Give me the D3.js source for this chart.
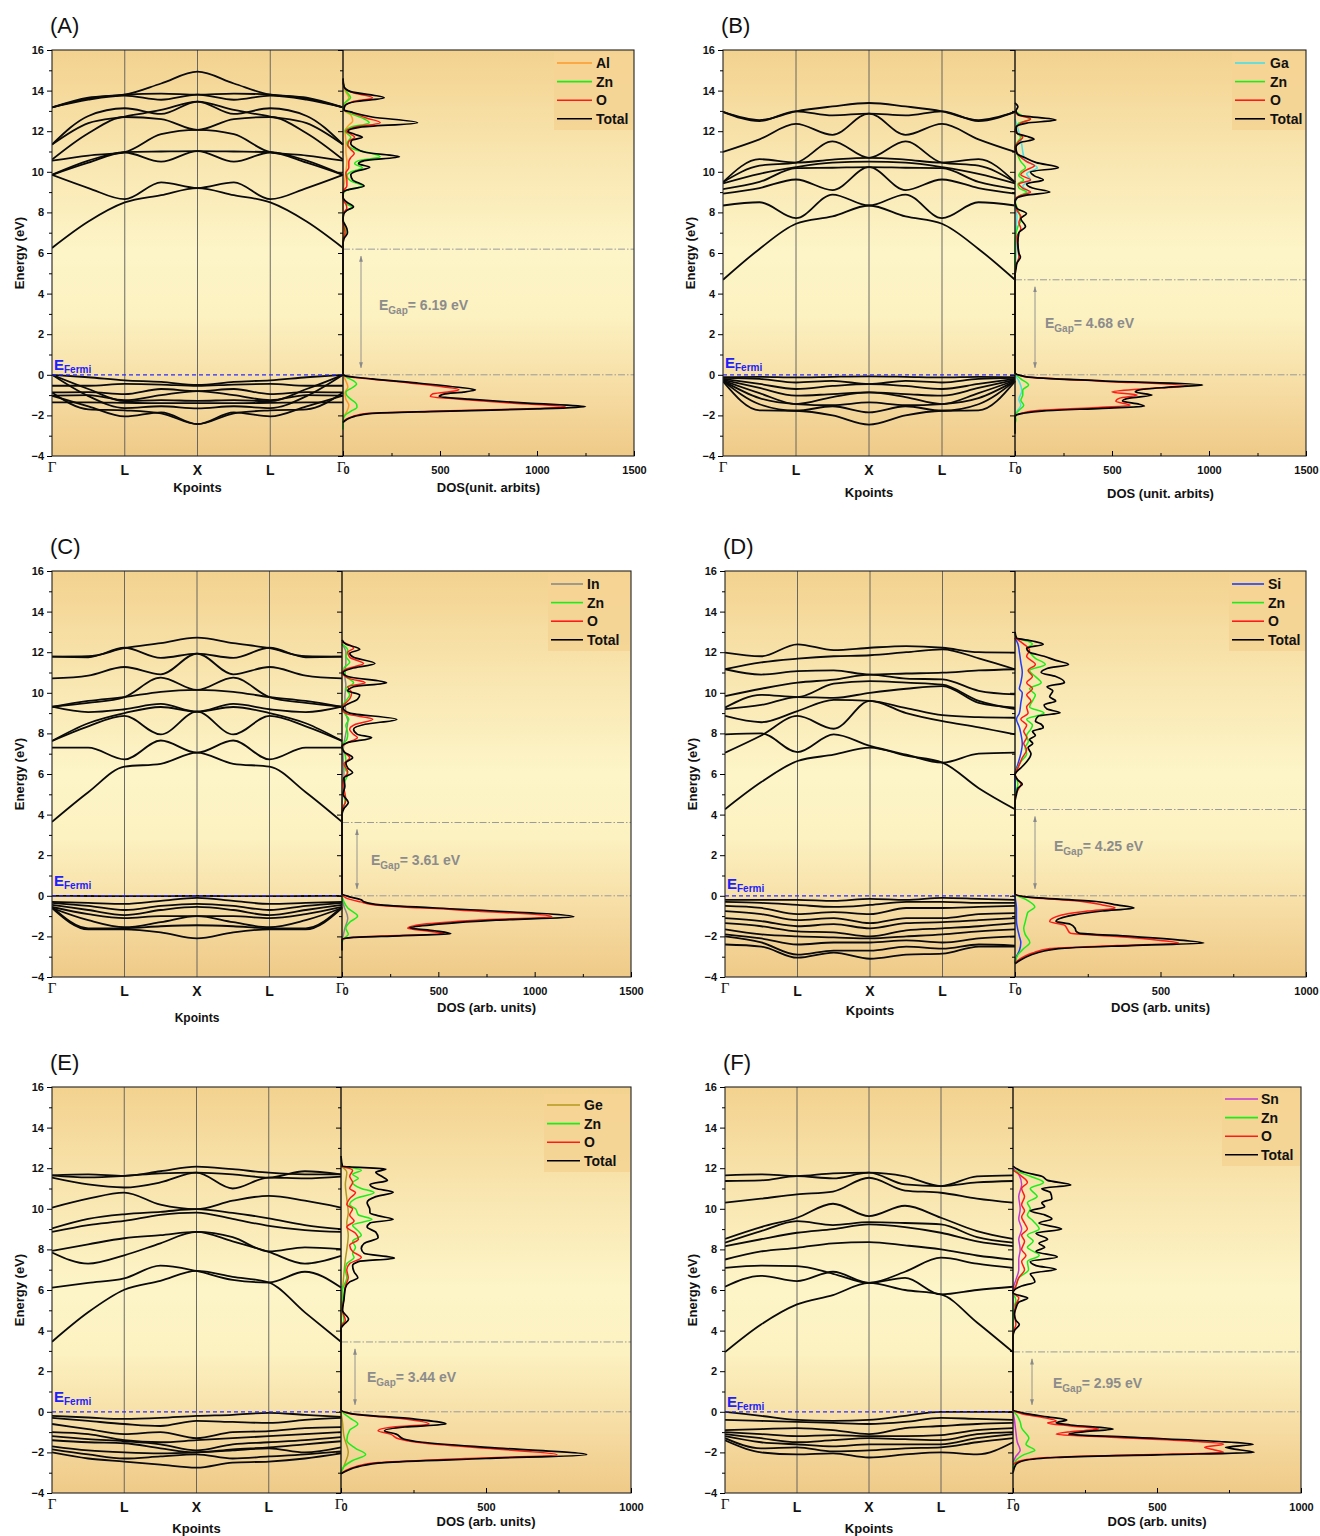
<!DOCTYPE html>
<html><head><meta charset="utf-8">
<script src="https://cdn.jsdelivr.net/npm/d3@7"></script>
<style>body{margin:0;background:#fff}svg{display:block}</style>
</head><body>
<svg id="c" width="1320" height="1536"></svg>
<script>
// ---------------- DATA ----------------
const panelLetters = ["A","B","C","D","E","F"];
const kLabels = ["\u0393","L","X","L","\u0393"];
const kPoints = [0,0.5,1,1.5,2,2.5,3,3.5,4];
const energyMajorTicks = [-4,-2,0,2,4,6,8,10,12,14,16];
const energyMinorTicks = [-3,-1,1,3,5,7,9,11,13,15];
const dopants = ["Al","Ga","In","Si","Ge","Sn"];
const dopantColors = ["#ff9a2e","#48e0e8","#8a8a8a","#1f3cff","#b39a1e","#c23ad6"];
const gapValues = [6.19, 4.68, 3.61, 4.25, 3.44, 2.95];
const dosMax = [1500,1500,1500,1000,1000,1000];
const dosTickValues = [[0,500,1000,1500],[0,500,1000,1500],[0,500,1000,1500],[0,500,1000],[0,500,1000],[0,500,1000]];
const dosTitles = ["DOS(unit. arbits)","DOS (unit. arbits)","DOS (arb. units)","DOS (arb. units)","DOS (arb. units)","DOS (arb. units)"];

// band energies (eV) at kPoints: Γ, ½, L, ½, X, ½, L, ½, Γ
const bandsA = [
 [6.25,7.55,8.49,8.85,9.2,8.85,8.49,7.55,6.25],
 [9.85,9.2,8.65,9.48,9.2,9.48,8.65,9.2,9.85],
 [9.85,10.45,10.95,10.5,11.02,10.5,10.95,10.45,9.85],
 [9.85,10.55,10.97,11.0,11.02,11.0,10.97,10.55,9.85],
 [10.55,10.8,10.97,11.85,12.07,11.85,10.97,10.8,10.55],
 [10.6,11.9,12.7,12.6,12.07,12.6,12.7,11.9,10.6],
 [11.34,12.4,12.72,13.05,13.46,13.05,12.72,12.4,11.34],
 [11.34,12.75,13.13,12.85,13.46,12.85,13.13,12.75,11.34],
 [13.17,13.55,13.75,13.55,13.8,13.55,13.75,13.55,13.17],
 [13.17,13.6,13.8,13.85,13.8,13.85,13.8,13.6,13.17],
 [13.17,13.65,13.8,14.35,14.93,14.35,13.8,13.65,13.17],
 [0,-0.12,-0.27,-0.35,-0.5,-0.35,-0.27,-0.12,0],
 [-0.54,-0.54,-0.45,-0.48,-0.55,-0.48,-0.45,-0.54,-0.54],
 [-0.87,-0.85,-0.95,-0.7,-0.8,-0.7,-0.95,-0.85,-0.87],
 [-1.03,-1.0,-1.25,-1.0,-0.8,-1.0,-1.25,-1.0,-1.03],
 [-1.36,-1.36,-1.38,-1.4,-1.4,-1.4,-1.38,-1.36,-1.36],
 [0,-0.7,-1.3,-1.25,-1.28,-1.25,-1.3,-0.7,0],
 [0,-1.05,-1.64,-1.55,-1.65,-1.55,-1.64,-1.05,0],
 [-0.87,-1.7,-1.75,-1.9,-2.43,-1.9,-1.75,-1.7,-0.87],
 [-1.03,-1.55,-2.05,-1.85,-2.43,-1.85,-2.05,-1.55,-1.03]
];
const bandsB = [
 [4.68,6.2,7.44,7.8,8.34,7.8,7.44,6.2,4.68],
 [8.34,8.5,7.72,8.88,8.34,8.88,7.72,8.5,8.34],
 [8.92,9.2,9.62,9.1,10.23,9.1,9.62,9.2,8.92],
 [9.15,9.5,10.18,10.2,10.23,10.2,10.18,9.5,9.15],
 [9.43,9.9,10.23,10.45,10.5,10.45,10.23,9.9,9.43],
 [9.49,10.3,10.45,11.5,10.69,11.5,10.45,10.3,9.49],
 [9.49,10.62,10.45,10.6,10.69,10.6,10.45,10.62,9.49],
 [10.98,11.6,12.36,11.82,12.87,11.82,12.36,11.6,10.98],
 [12.95,12.5,12.98,12.78,12.87,12.78,12.98,12.5,12.95],
 [12.95,12.55,12.98,13.22,13.39,13.22,12.98,12.55,12.95],
 [-0.12,-0.1,-0.13,-0.1,-0.08,-0.1,-0.13,-0.1,-0.12],
 [-0.15,-0.2,-0.38,-0.3,-0.46,-0.3,-0.38,-0.2,-0.15],
 [-0.2,-0.45,-0.7,-0.55,-0.46,-0.55,-0.7,-0.45,-0.2],
 [-0.25,-0.65,-1.03,-0.95,-0.87,-0.95,-1.03,-0.65,-0.25],
 [-0.28,-0.9,-1.44,-1.1,-0.87,-1.1,-1.44,-0.9,-0.28],
 [-0.3,-1.15,-1.44,-1.5,-1.36,-1.5,-1.44,-1.15,-0.3],
 [-0.3,-1.45,-1.77,-1.55,-1.85,-1.55,-1.77,-1.45,-0.3],
 [-0.32,-1.75,-1.77,-2.0,-2.45,-2.0,-1.77,-1.75,-0.32]
];
const bandsC = [
 [3.64,5.1,6.36,6.5,7.05,6.5,6.36,5.1,3.64],
 [7.3,7.3,6.72,7.65,7.05,7.65,6.72,7.3,7.3],
 [7.63,8.35,8.86,7.95,9.07,7.95,8.86,8.35,7.63],
 [7.63,8.5,9.0,9.3,9.07,9.3,9.0,8.5,7.63],
 [9.32,9.05,9.19,9.45,9.07,9.45,9.19,9.05,9.32],
 [9.32,9.5,9.79,10.75,10.14,10.75,9.79,9.5,9.32],
 [9.3,9.6,9.79,10.05,10.14,10.05,9.79,9.6,9.3],
 [10.71,10.85,11.27,10.91,11.93,10.91,11.27,10.85,10.71],
 [11.78,11.75,12.22,11.72,11.93,11.72,12.22,11.75,11.78],
 [11.78,11.8,12.2,12.45,12.72,12.45,12.2,11.8,11.78],
 [0,-0.01,-0.02,-0.02,0,-0.02,-0.02,-0.01,0],
 [-0.3,-0.35,-0.4,-0.25,-0.1,-0.25,-0.4,-0.35,-0.3],
 [-0.35,-0.5,-0.7,-0.5,-0.4,-0.5,-0.7,-0.5,-0.35],
 [-0.45,-0.7,-0.95,-0.7,-0.55,-0.7,-0.95,-0.7,-0.45],
 [-0.55,-0.9,-1.1,-1.0,-1.0,-1.0,-1.1,-0.9,-0.55],
 [-0.6,-1.2,-1.55,-1.3,-1.0,-1.3,-1.55,-1.2,-0.6],
 [-0.55,-1.6,-1.6,-1.5,-1.45,-1.5,-1.6,-1.6,-0.55],
 [-0.6,-1.65,-1.65,-1.8,-2.1,-1.8,-1.65,-1.65,-0.6]
];
const bandsD = [
 [4.26,5.6,6.64,6.95,7.3,6.9,6.56,5.3,4.26],
 [7.05,7.9,8.86,8.23,9.6,9.0,8.6,8.3,7.95],
 [7.95,8.0,7.08,7.95,7.38,6.95,6.56,7.0,7.05],
 [8.86,8.55,9.1,9.65,9.6,9.25,8.9,8.8,8.77],
 [9.2,9.4,9.79,9.75,10.0,10.2,10.33,9.5,9.27],
 [9.27,9.9,9.79,10.45,10.58,10.5,10.4,9.6,9.2],
 [9.84,10.2,10.5,10.65,10.9,10.7,10.66,10.1,9.92],
 [11.16,10.9,11.07,11.1,10.9,10.95,10.99,11.1,11.16],
 [11.16,11.5,11.68,11.8,11.85,12.0,12.14,11.7,11.16],
 [11.98,11.8,12.39,12.1,12.22,12.3,12.22,12.0,11.98],
 [-0.2,-0.2,-0.2,-0.25,-0.15,-0.2,-0.1,-0.15,-0.2],
 [-0.3,-0.35,-0.45,-0.55,-0.45,-0.3,-0.3,-0.35,-0.35],
 [-0.5,-0.6,-0.9,-0.8,-0.9,-0.6,-0.6,-0.55,-0.5],
 [-0.75,-0.9,-1.2,-1.1,-1.35,-1.1,-1.1,-0.9,-0.85],
 [-1.1,-1.25,-1.5,-1.4,-1.6,-1.35,-1.3,-1.2,-1.1],
 [-1.35,-1.5,-1.75,-1.8,-2.0,-1.7,-1.6,-1.5,-1.35],
 [-1.65,-1.9,-2.0,-2.05,-2.1,-2.0,-1.9,-1.75,-1.65],
 [-1.9,-2.1,-2.4,-2.3,-2.3,-2.2,-2.3,-2.1,-2.0],
 [-2.0,-2.3,-2.9,-2.7,-2.7,-2.5,-2.6,-2.4,-2.45],
 [-2.4,-2.5,-3.05,-2.8,-3.1,-2.9,-2.85,-2.5,-2.5]
];
const bandsE = [
 [3.45,4.9,6.01,6.45,6.94,6.65,6.37,4.9,3.45],
 [6.12,6.35,6.57,7.2,6.94,6.5,6.37,6.9,6.12],
 [7.85,7.3,7.71,8.3,8.86,8.4,7.88,7.3,7.68],
 [7.93,8.25,8.55,8.7,8.86,8.6,7.9,8.1,8.01],
 [8.86,9.2,9.4,9.7,9.81,9.5,9.16,8.95,8.86],
 [9.03,9.5,9.73,9.85,9.98,9.8,9.53,9.2,9.0],
 [10.06,10.5,10.8,10.2,9.98,10.4,10.64,10.4,10.06],
 [11.54,11.2,11.05,11.3,11.78,11.0,11.54,11.5,11.59],
 [11.65,11.55,11.62,11.75,11.78,11.7,11.54,11.85,11.7],
 [11.65,11.7,11.62,11.85,12.08,11.95,11.78,11.7,11.7],
 [-0.2,-0.28,-0.35,-0.3,-0.2,-0.15,-0.05,-0.15,-0.25],
 [-0.3,-0.45,-0.6,-0.7,-0.45,-0.5,-0.55,-0.4,-0.3],
 [-0.6,-0.85,-1.1,-1.0,-1.3,-1.0,-0.95,-0.8,-0.75],
 [-1.0,-1.1,-1.4,-1.5,-1.4,-1.3,-1.2,-1.1,-1.0],
 [-1.2,-1.35,-1.45,-1.6,-1.9,-1.6,-1.5,-1.4,-1.25],
 [-1.4,-1.5,-1.55,-1.8,-2.0,-1.85,-1.75,-1.6,-1.45],
 [-1.7,-1.9,-2.0,-2.05,-2.0,-1.9,-1.8,-2.0,-1.75],
 [-1.85,-2.1,-2.3,-2.2,-2.1,-2.3,-2.2,-2.1,-1.95],
 [-2.0,-2.3,-2.45,-2.6,-2.75,-2.5,-2.45,-2.3,-2.05]
];
const bandsF = [
 [2.94,4.3,5.29,5.75,6.35,6.0,5.78,4.4,2.94],
 [6.16,6.7,6.44,6.9,6.35,6.6,5.78,6.0,6.16],
 [7.09,7.2,7.18,6.8,6.35,6.9,7.59,7.3,7.09],
 [7.5,7.9,8.08,8.3,8.36,8.2,8.0,7.7,7.5],
 [8.16,8.5,8.82,9.0,9.23,9.1,8.82,8.4,8.16],
 [8.33,8.9,9.39,9.2,9.34,9.3,9.23,8.6,8.33],
 [8.52,9.1,9.56,10.25,9.64,10.15,9.56,8.9,8.52],
 [10.3,10.5,10.71,10.85,11.53,10.9,10.79,10.5,10.3],
 [11.37,11.4,11.61,11.5,11.78,11.2,11.12,11.3,11.37],
 [11.65,11.7,11.61,11.75,11.78,11.6,11.12,11.6,11.65],
 [0,-0.2,-0.4,-0.45,-0.4,-0.2,0,0,0],
 [-0.4,-0.45,-0.5,-0.55,-0.6,-0.5,-0.3,-0.35,-0.4],
 [-0.9,-0.85,-0.8,-0.9,-1.1,-0.8,-0.7,-0.6,-0.55],
 [-1.0,-1.1,-1.2,-1.15,-1.2,-1.2,-1.15,-0.9,-0.8],
 [-1.1,-1.3,-1.5,-1.4,-1.3,-1.35,-1.4,-1.1,-1.0],
 [-1.2,-1.5,-1.6,-1.7,-1.6,-1.6,-1.6,-1.3,-1.1],
 [-1.3,-1.8,-1.75,-1.95,-1.9,-1.8,-1.75,-1.5,-1.3],
 [-1.4,-2.0,-2.1,-2.05,-2.25,-2.1,-2.0,-2.1,-1.5]
];

// DOS: [energy (eV), DOS value]
const dosA_Al = [[14.5,0],[14.0,10],[13.65,30],[13.3,5],[13.0,10],[12.8,40],[12.5,50],[12.3,30],[12.0,10],[11.5,15],[11.0,15],[10.5,20],[10.0,15],[9.5,8],[9.0,0],[0.05,0],[-0.3,15],[-0.6,25],[-0.9,10],[-1.2,15],[-1.5,30],[-1.8,20],[-2.1,0]];
const dosA_Zn = [[14.4,0],[14.0,15],[13.65,39],[13.4,10],[13.1,0],[12.9,30],[12.6,110],[12.42,135],[12.2,40],[12.0,10],[11.7,40],[11.4,20],[11.1,60],[10.9,150],[10.74,192],[10.55,80],[10.4,60],[10.2,100],[10.0,40],[9.8,20],[9.55,40],[9.3,100],[9.1,20],[8.9,0],[8.6,2],[8.4,20],[8.25,50],[8.1,20],[7.9,0],[7.6,2],[7.3,10],[7.0,15],[6.7,0],[0.05,0],[-0.1,15],[-0.3,55],[-0.45,70],[-0.65,45],[-0.85,15],[-1.0,18],[-1.2,40],[-1.45,70],[-1.6,72],[-1.8,40],[-2.0,10],[-2.3,0],[-2.7,0]];
const dosA_O = [[14.4,0],[14.1,10],[13.9,50],[13.65,152],[13.45,50],[13.25,8],[13.05,5],[12.9,50],[12.65,120],[12.42,192],[12.2,60],[12.0,15],[11.85,40],[11.7,60],[11.5,30],[11.3,25],[11.1,40],[10.9,58],[10.7,40],[10.5,30],[10.2,30],[9.95,15],[9.6,20],[9.3,20],[9.1,5],[8.9,0],[8.6,2],[8.4,15],[8.2,20],[8.0,5],[7.6,0],[7.3,5],[7.0,10],[6.6,0],[0.05,0],[-0.05,8],[-0.2,130],[-0.4,340],[-0.6,520],[-0.74,598],[-0.85,540],[-0.95,460],[-1.07,450],[-1.2,600],[-1.4,880],[-1.57,1147],[-1.68,920],[-1.8,450],[-1.9,130],[-2.05,50],[-2.2,15],[-2.35,0]];
const dosA_Total = [[14.6,0],[14.2,5],[13.95,40],[13.65,212],[13.45,60],[13.25,10],[13.05,5],[12.95,40],[12.7,150],[12.42,384],[12.2,90],[12.0,25],[11.85,60],[11.7,100],[11.55,45],[11.4,40],[11.2,60],[10.95,120],[10.74,291],[10.55,110],[10.4,80],[10.22,138],[10.0,60],[9.85,40],[9.6,50],[9.3,109],[9.1,20],[9.0,2],[8.75,0],[8.5,20],[8.28,54],[8.1,20],[7.9,3],[7.6,0],[7.4,10],[7.2,20],[6.98,23],[6.7,5],[6.4,0],[0.05,0],[-0.05,10],[-0.2,150],[-0.4,380],[-0.6,580],[-0.74,683],[-0.85,620],[-0.95,520],[-1.07,496],[-1.2,650],[-1.4,950],[-1.57,1250],[-1.68,1000],[-1.8,500],[-1.9,150],[-2.05,60],[-2.2,20],[-2.35,0]];

const dosB_Ga = [[12.6,0],[12.3,10],[11.6,30],[10.6,50],[10.2,115],[9.9,60],[9.6,80],[9.3,40],[9.0,70],[8.7,10],[8.4,0],[7.8,10],[7.0,5],[6.0,5],[5.0,0],[0.05,0],[-0.3,20],[-0.8,35],[-1.2,20],[-1.5,30],[-1.8,10],[-2.0,0]];
const dosB_Zn = [[13.0,0],[12.8,30],[12.6,80],[12.4,20],[12.0,0],[11.7,30],[11.5,15],[11.2,0],[10.8,15],[10.5,30],[10.2,54],[10.0,30],[9.8,20],[9.6,45],[9.4,15],[9.2,20],[9.0,60],[8.8,20],[8.6,0],[8.0,20],[7.6,30],[7.3,15],[6.5,0],[0.1,0],[-0.2,30],[-0.5,70],[-0.75,40],[-1.0,40],[-1.25,30],[-1.5,45],[-1.75,20],[-2.0,0],[-2.2,5],[-2.4,0]];
const dosB_O = [[13.0,0],[12.8,15],[12.6,80],[12.4,30],[12.0,0],[11.7,40],[11.5,20],[11.2,0],[10.8,20],[10.5,60],[10.3,100],[10.1,60],[9.85,30],[9.6,80],[9.4,20],[9.2,40],[9.0,80],[8.8,20],[8.6,0],[8.1,10],[7.8,30],[7.5,20],[7.2,30],[6.8,10],[6.2,15],[5.8,20],[5.4,5],[5.0,0],[0.1,0],[-0.1,50],[-0.3,420],[-0.55,891],[-0.7,650],[-0.85,500],[-1.0,630],[-1.15,540],[-1.3,520],[-1.5,593],[-1.62,400],[-1.75,130],[-1.9,30],[-2.0,0]];
const dosB_Total = [[13.4,0],[13.2,15],[13.0,5],[12.8,20],[12.55,211],[12.4,60],[12.2,5],[11.9,10],[11.75,60],[11.6,98],[11.45,30],[11.2,5],[10.9,10],[10.7,50],[10.45,110],[10.2,224],[10.0,80],[9.8,100],[9.6,146],[9.4,60],[9.2,90],[9.0,180],[8.85,60],[8.7,10],[8.5,0],[8.2,10],[7.95,59],[7.7,30],[7.3,54],[7.0,20],[6.5,15],[6.0,20],[5.8,28],[5.5,10],[5.2,5],[4.9,0],[0.1,0],[-0.1,60],[-0.3,450],[-0.5,967],[-0.62,780],[-0.75,640],[-0.85,620],[-1.0,706],[-1.15,590],[-1.29,554],[-1.45,640],[-1.55,667],[-1.65,450],[-1.78,150],[-1.9,40],[-2.0,5],[-2.1,0],[-2.9,0]];

const dosC_In = [[12.4,0],[12.0,20],[11.5,20],[10.8,15],[10.4,20],[9.8,15],[9.0,20],[8.6,30],[8.0,20],[7.5,10],[7.0,5],[6.0,10],[5.0,5],[4.5,0],[0.05,0],[-0.5,10],[-1.1,30],[-1.6,15],[-2.0,5],[-2.2,0]];
const dosC_Zn = [[12.4,0],[12.1,30],[11.8,20],[11.5,40],[11.2,10],[10.8,20],[10.5,60],[10.2,20],[9.9,40],[9.6,20],[9.3,0],[8.9,20],[8.7,35],[8.4,20],[8.0,30],[7.7,25],[7.4,0],[7.0,15],[6.7,20],[6.3,15],[6.0,30],[5.5,10],[4.6,15],[4.2,0],[0.1,0],[-0.3,10],[-0.6,30],[-1.0,81],[-1.3,40],[-1.6,20],[-1.9,33],[-2.1,10],[-2.3,0]];
const dosC_O = [[12.5,0],[12.2,60],[12.0,30],[11.75,40],[11.44,112],[11.2,30],[11.0,0],[10.7,40],[10.5,120],[10.3,30],[10.0,50],[9.7,40],[9.4,10],[9.2,0],[8.95,30],[8.7,160],[8.45,70],[8.2,40],[7.95,60],[7.8,80],[7.5,20],[7.3,0],[7.0,20],[6.8,40],[6.5,10],[6.1,30],[5.7,5],[5.3,10],[4.7,20],[4.2,0],[0.1,0],[-0.1,20],[-0.3,95],[-0.45,170],[-0.7,600],[-1.03,1089],[-1.2,700],[-1.4,420],[-1.6,341],[-1.75,450],[-1.87,530],[-1.97,250],[-2.05,50],[-2.15,0]];
const dosC_Total = [[12.6,0],[12.4,20],[12.14,92],[11.95,40],[11.75,60],[11.44,171],[11.2,50],[11.0,5],[10.8,30],[10.5,231],[10.3,60],[10.1,30],[9.9,92],[9.68,80],[9.45,30],[9.25,5],[9.0,40],[8.69,284],[8.45,120],[8.2,60],[7.95,80],[7.79,154],[7.55,30],[7.35,0],[7.1,10],[6.8,55],[6.55,20],[6.3,30],[6.07,55],[5.8,10],[5.4,15],[5.0,5],[4.6,33],[4.3,10],[4.0,0],[0.1,0],[-0.05,40],[-0.2,100],[-0.3,115],[-0.45,200],[-0.7,700],[-1.03,1203],[-1.2,800],[-1.4,500],[-1.57,352],[-1.72,480],[-1.87,565],[-1.97,300],[-2.05,60],[-2.15,0],[-2.7,0]];

const dosD_Si = [[12.7,0],[12.4,10],[12.0,15],[11.5,20],[11.0,25],[10.5,20],[10.2,15],[10.0,25],[9.5,20],[9.0,15],[8.7,5],[8.3,15],[8.0,20],[7.5,25],[7.0,20],[6.5,10],[6.0,0],[0.05,0],[-0.6,5],[-1.2,5],[-2.0,15],[-2.3,20],[-2.7,15],[-3.0,5],[-3.3,0]];
const dosD_Zn = [[12.7,0],[12.4,60],[12.2,40],[12.0,50],[11.7,70],[11.4,104],[11.1,50],[10.8,70],[10.5,90],[10.2,50],[9.9,70],[9.6,60],[9.3,50],[9.0,100],[8.7,40],[8.4,60],[8.2,54],[7.9,40],[7.6,46],[7.3,35],[7.0,40],[6.6,20],[6.2,5],[6.0,0],[5.5,10],[5.0,0],[0.1,0],[-0.2,40],[-0.55,68],[-0.8,45],[-1.0,40],[-1.3,35],[-1.6,30],[-1.9,35],[-2.3,51],[-2.6,30],[-2.9,10],[-3.3,0]];
const dosD_O = [[12.7,0],[12.4,30],[12.1,50],[11.8,40],[11.4,70],[11.1,45],[10.8,60],[10.5,40],[10.2,60],[9.9,40],[9.6,55],[9.3,40],[9.0,45],[8.7,20],[8.4,40],[8.1,30],[7.8,40],[7.5,30],[7.2,40],[6.8,25],[6.3,10],[6.0,0],[5.7,10],[5.5,20],[5.2,10],[4.9,0],[0.1,0],[-0.05,30],[-0.28,230],[-0.45,300],[-0.6,344],[-0.75,250],[-0.95,160],[-1.26,119],[-1.45,170],[-1.65,180],[-1.84,190],[-2.0,350],[-2.2,500],[-2.33,562],[-2.45,350],[-2.6,120],[-2.82,60],[-3.0,30],[-3.3,0]];
const dosD_Total = [[13.0,0],[12.7,5],[12.55,60],[12.39,97],[12.2,40],[12.0,50],[11.8,100],[11.6,140],[11.4,184],[11.2,110],[11.0,90],[10.8,140],[10.5,170],[10.3,110],[10.1,130],[9.8,119],[9.6,140],[9.4,100],[9.2,110],[9.02,155],[8.85,80],[8.6,70],[8.45,90],[8.28,97],[8.1,60],[7.9,70],[7.7,50],[7.5,61],[7.3,45],[7.0,55],[6.6,40],[6.3,20],[6.1,5],[5.95,0],[5.7,10],[5.5,25],[5.3,10],[5.0,5],[4.6,0],[0.1,0],[-0.05,40],[-0.28,279],[-0.45,350],[-0.6,409],[-0.75,300],[-0.95,200],[-1.26,141],[-1.4,190],[-1.59,206],[-1.75,210],[-1.84,220],[-2.0,400],[-2.2,580],[-2.33,649],[-2.45,400],[-2.6,150],[-2.82,75],[-3.0,40],[-3.2,15],[-3.35,0]];

const dosE_Ge = [[12.1,0],[11.8,20],[11.2,15],[10.5,20],[9.8,25],[9.3,20],[8.7,25],[8.0,20],[7.5,15],[6.8,10],[6.0,5],[5.0,0],[0.05,0],[-0.5,5],[-1.2,10],[-2.0,25],[-2.5,15],[-3.0,0]];
const dosE_Zn = [[12.1,0],[11.9,70],[11.7,40],[11.5,60],[11.3,40],[11.0,70],[10.8,114],[10.5,50],[10.2,30],[10.0,50],[9.7,60],[9.48,107],[9.2,40],[8.9,60],[8.7,70],[8.4,40],[8.1,50],[7.8,40],[7.6,45],[7.3,20],[7.0,15],[6.6,20],[6.0,5],[5.0,5],[4.5,10],[4.2,0],[0.1,0],[-0.3,30],[-0.6,58],[-0.9,30],[-1.4,20],[-1.8,50],[-2.1,85],[-2.4,40],[-2.7,10],[-3.0,0]];
const dosE_O = [[12.1,0],[11.9,40],[11.6,30],[11.3,40],[11.0,30],[10.8,50],[10.5,30],[10.2,20],[10.0,40],[9.7,30],[9.4,45],[9.1,20],[8.8,50],[8.5,60],[8.2,30],[7.9,40],[7.6,70],[7.3,30],[7.0,20],[6.6,25],[6.2,15],[5.6,10],[5.0,5],[4.5,15],[4.2,0],[0.1,0],[-0.1,30],[-0.35,220],[-0.6,304],[-0.75,180],[-0.93,128],[-1.1,170],[-1.34,201],[-1.5,260],[-1.8,500],[-2.11,745],[-2.3,430],[-2.5,130],[-2.7,50],[-2.9,15],[-3.05,0]];
const dosE_Total = [[12.6,0],[12.1,5],[11.96,155],[11.8,120],[11.6,140],[11.4,160],[11.2,100],[11.0,120],[10.82,180],[10.6,120],[10.3,90],[10.0,99],[9.8,100],[9.65,130],[9.48,180],[9.3,100],[9.1,90],[8.85,120],[8.57,128],[8.3,80],[8.05,70],[7.8,80],[7.57,184],[7.4,60],[7.2,40],[6.9,45],[6.6,58],[6.4,30],[6.1,15],[5.5,10],[5.0,5],[4.56,26],[4.3,10],[4.1,0],[0.1,0],[-0.1,40],[-0.35,250],[-0.6,362],[-0.75,220],[-0.93,150],[-1.1,190],[-1.34,216],[-1.5,280],[-1.8,560],[-2.11,847],[-2.3,500],[-2.5,150],[-2.7,60],[-2.9,20],[-3.05,0]];

const dosF_Sn = [[12.0,0],[11.7,20],[11.2,30],[10.6,20],[10.0,25],[9.5,20],[9.0,30],[8.5,20],[8.0,25],[7.5,20],[7.0,20],[6.5,10],[6.0,0],[0.05,0],[-0.4,5],[-1.0,10],[-1.5,15],[-1.9,25],[-2.2,10],[-2.5,0]];
const dosF_Zn = [[11.9,0],[11.6,60],[11.3,106],[11.0,60],[10.6,84],[10.3,50],[10.0,60],[9.7,50],[9.4,70],[9.0,91],[8.7,50],[8.4,70],[8.1,50],[7.7,91],[7.4,50],[7.0,54],[6.6,20],[6.2,10],[5.9,0],[5.5,10],[5.0,0],[0.1,0],[-0.2,15],[-0.5,25],[-0.8,30],[-1.3,55],[-1.6,45],[-1.9,76],[-2.1,40],[-2.4,10],[-2.8,0]];
const dosF_O = [[11.9,0],[11.6,30],[11.3,50],[11.0,30],[10.6,40],[10.2,30],[9.9,40],[9.6,30],[9.3,40],[9.0,50],[8.7,30],[8.4,40],[8.0,30],[7.7,45],[7.4,30],[7.0,40],[6.6,20],[6.2,10],[5.9,0],[5.6,20],[5.3,10],[4.8,5],[4.3,10],[3.9,0],[0.1,0],[-0.1,30],[-0.3,110],[-0.45,150],[-0.55,120],[-0.7,200],[-0.85,297],[-0.98,200],[-1.1,150],[-1.25,340],[-1.45,620],[-1.6,731],[-1.75,665],[-1.88,700],[-2.0,731],[-2.12,430],[-2.25,120],[-2.4,30],[-2.6,0]];
const dosF_Total = [[12.1,0],[11.8,40],[11.6,100],[11.4,120],[11.17,201],[11.0,100],[10.8,130],[10.5,135],[10.3,100],[10.1,110],[9.9,60],[9.7,110],[9.5,135],[9.3,90],[9.0,169],[8.8,80],[8.5,120],[8.3,90],[8.1,110],[7.9,80],[7.63,154],[7.4,60],[7.2,80],[7.02,150],[6.8,60],[6.6,70],[6.4,76],[6.2,30],[6.0,5],[5.85,0],[5.6,51],[5.4,20],[5.1,10],[4.8,5],[4.5,10],[4.3,22],[4.0,5],[3.7,0],[0.1,0],[-0.1,50],[-0.25,120],[-0.4,187],[-0.55,150],[-0.65,200],[-0.85,348],[-0.98,250],[-1.1,194],[-1.25,400],[-1.45,700],[-1.6,834],[-1.75,738],[-1.88,790],[-2.0,837],[-2.12,500],[-2.25,150],[-2.4,40],[-2.6,10],[-3.0,0]];

const bandSets = [bandsA,bandsB,bandsC,bandsD,bandsE,bandsF];
const dosSets = [
  [dosA_Al,dosA_Zn,dosA_O,dosA_Total],
  [dosB_Ga,dosB_Zn,dosB_O,dosB_Total],
  [dosC_In,dosC_Zn,dosC_O,dosC_Total],
  [dosD_Si,dosD_Zn,dosD_O,dosD_Total],
  [dosE_Ge,dosE_Zn,dosE_O,dosE_Total],
  [dosF_Sn,dosF_Zn,dosF_O,dosF_Total]
];

// ---------------- LAYOUT ----------------
const layout = [
 {bx0:52, div:343, dx1:634, top:50, bot:456, kT:487, dT:487, lx0:-77, lx1:-42, lt:-38, lr:13, fd:-9, ad:18, gd:36, gE:3.45},
 {bx0:723,div:1015,dx1:1306,top:50, bot:456, kT:492, dT:493, lx0:-71, lx1:-41, lt:-36, lr:13, fd:-11,ad:20, gd:30, gE:2.55},
 {bx0:52, div:342, dx1:631, top:571,bot:977, kT:1017,dT:1007,lx0:-80, lx1:-48, lt:-44, lr:13, fd:-14,ad:15, gd:29, gE:1.77},
 {bx0:725,div:1015,dx1:1306,top:571,bot:977, kT:1010,dT:1007,lx0:-74, lx1:-42, lt:-38, lr:13, fd:-11,ad:20, gd:39, gE:2.46},
 {bx0:52, div:341, dx1:631, top:1087,bot:1493,kT:1528,dT:1521,lx0:-84, lx1:-51, lt:-47, lr:18, fd:-14,ad:14, gd:26, gE:1.72},
 {bx0:725,div:1013,dx1:1301,top:1087,bot:1493,kT:1528,dT:1521,lx0:-76, lx1:-43, lt:-40, lr:12, fd:-9, ad:19, gd:40, gE:1.43}
];

const SANS = "'Liberation Sans', Arial, Helvetica, sans-serif";
const SERIF = "'Liberation Serif', 'Times New Roman', serif";
const svg = d3.select("#c");
const defs = svg.append("defs");
defs.append("marker").attr("id","arr").attr("viewBox","0 0 10 10").attr("refX",9).attr("refY",5)
  .attr("markerWidth",7).attr("markerHeight",7).attr("orient","auto-start-reverse")
  .append("path").attr("d","M0,2 L10,5 L0,8 Z").attr("fill","#8a8a8a");

panelLetters.forEach((letter, i) => {
  const L = layout[i];
  const g = svg.append("g").attr("font-family", SANS);
  const y = d3.scaleLinear().domain([-4,16]).range([L.bot, L.top]);
  const xk = d3.scaleLinear().domain([0,4]).range([L.bx0, L.div]);
  const xd = d3.scaleLinear().domain([0, dosMax[i]]).range([L.div, L.dx1]);

  const grad = defs.append("linearGradient").attr("id","bg"+i).attr("x1",0).attr("y1",0).attr("x2",0).attr("y2",1);
  [[0,"#f3d28f"],[0.28,"#f9e7b2"],[0.5,"#fdf5c8"],[0.66,"#fcf1c0"],[0.84,"#f6dca3"],[1,"#efca88"]]
    .forEach(s => grad.append("stop").attr("offset", s[0]).attr("stop-color", s[1]));
  g.append("rect").attr("x",L.bx0).attr("y",L.top).attr("width",L.dx1-L.bx0).attr("height",L.bot-L.top)
    .attr("fill",`url(#bg${i})`);

  const clipId = "cl"+i;
  defs.append("clipPath").attr("id",clipId).append("rect")
    .attr("x",L.bx0).attr("y",L.top).attr("width",L.dx1-L.bx0).attr("height",L.bot-L.top);

  // legend
  const lg = g.append("g");
  lg.append("rect").attr("x",L.dx1+L.lx0-3).attr("y",L.top+L.lr-11).attr("width",-L.lx0+2).attr("height",78)
    .attr("fill","#f4d394").attr("opacity",0.85);
  const legNames = [dopants[i],"Zn","O","Total"];
  const legCols = [dopantColors[i],"#19ee19","#ff1a1a","#000"];
  legNames.forEach((n,j) => {
    const yy = L.top + L.lr + j*18.6;
    lg.append("line").attr("x1",L.dx1+L.lx0).attr("x2",L.dx1+L.lx1).attr("y1",yy).attr("y2",yy)
      .attr("stroke",legCols[j]).attr("stroke-width",1.6);
    lg.append("text").attr("x",L.dx1+L.lt).attr("y",yy+5).text(n)
      .attr("font-size",14).attr("font-weight","bold").attr("fill","#111");
  });

  [1,2,3].forEach(k => g.append("line").attr("x1",xk(k)).attr("x2",xk(k)).attr("y1",L.top).attr("y2",L.bot)
    .attr("stroke","#5a5a5a").attr("stroke-width",0.9));

  // bands
  const bandLine = d3.line().x((d,j) => xk(kPoints[j])).y(d => y(d)).curve(d3.curveMonotoneX);
  const bg = g.append("g").attr("clip-path",`url(#${clipId})`);
  bandSets[i].forEach(b => bg.append("path").attr("d", bandLine(b)).attr("fill","none")
    .attr("stroke","#0a0a0a").attr("stroke-width",1.8));

  // Fermi level
  g.append("line").attr("x1",L.bx0).attr("x2",L.div).attr("y1",y(0)).attr("y2",y(0))
    .attr("stroke","#2b2bff").attr("stroke-width",1.2).attr("stroke-dasharray","4,3");
  const ft = g.append("text").attr("x",L.bx0+2).attr("y",y(0)+L.fd+4).attr("fill","#2020ff").attr("font-weight","bold");
  ft.append("tspan").text("E").attr("font-size",15);
  ft.append("tspan").text("Fermi").attr("font-size",10).attr("dy",3);

  // gap lines
  [gapValues[i], 0].forEach(e => g.append("line").attr("x1",L.div).attr("x2",L.dx1).attr("y1",y(e)).attr("y2",y(e))
    .attr("stroke","#9a9a9a").attr("stroke-width",1).attr("stroke-dasharray","7,2,1.5,2"));
  g.append("line").attr("x1",L.div+L.ad).attr("x2",L.div+L.ad)
    .attr("y1",y(gapValues[i])+7).attr("y2",y(0)-7)
    .attr("stroke","#8a8a8a").attr("stroke-width",0.9)
    .attr("marker-start","url(#arr)").attr("marker-end","url(#arr)");
  const gt = g.append("text").attr("x",L.div+L.gd).attr("y",y(L.gE)+5).attr("fill","#8c8c8c").attr("font-weight","bold");
  gt.append("tspan").text("E").attr("font-size",14);
  gt.append("tspan").text("Gap").attr("font-size",10).attr("dy",4);
  gt.append("tspan").text("= " + gapValues[i].toFixed(2) + " eV").attr("font-size",14).attr("dy",-4);

  // DOS curves
  const dosLine = d3.line().x(d => xd(d[1])).y(d => y(d[0])).curve(d3.curveMonotoneY);
  const dg = g.append("g").attr("clip-path",`url(#${clipId})`);
  const dosCols = [dopantColors[i],"#19ee19","#ff1a1a","#000"];
  dosSets[i].forEach((s,j) => dg.append("path").attr("d", dosLine(s)).attr("fill","none")
    .attr("stroke",dosCols[j]).attr("stroke-width", j===3 ? 1.7 : 1.5));

  // frame
  g.append("rect").attr("x",L.bx0).attr("y",L.top).attr("width",L.dx1-L.bx0).attr("height",L.bot-L.top)
    .attr("fill","none").attr("stroke","#222").attr("stroke-width",1.1);
  g.append("line").attr("x1",L.div).attr("x2",L.div).attr("y1",L.top).attr("y2",L.bot)
    .attr("stroke","#111").attr("stroke-width",1.4);

  // energy axes
  const ax = g.append("g").attr("transform",`translate(${L.bx0},0)`)
    .call(d3.axisLeft(y).tickValues(energyMajorTicks).tickSize(5).tickPadding(3));
  ax.select(".domain").remove();
  ax.selectAll("text").attr("font-size",11).attr("font-weight","bold").attr("font-family",SANS).attr("fill","#111");
  const axm = g.append("g").attr("transform",`translate(${L.bx0},0)`)
    .call(d3.axisLeft(y).tickValues(energyMinorTicks).tickSize(3).tickFormat(""));
  axm.select(".domain").remove();
  const ax2 = g.append("g").attr("transform",`translate(${L.div},0)`)
    .call(d3.axisLeft(y).tickValues(energyMajorTicks).tickSize(5).tickFormat(""));
  ax2.select(".domain").remove();
  const ax2m = g.append("g").attr("transform",`translate(${L.div},0)`)
    .call(d3.axisLeft(y).tickValues(energyMinorTicks).tickSize(3).tickFormat(""));
  ax2m.select(".domain").remove();

  // DOS axis
  const dax = g.append("g").attr("transform",`translate(0,${L.bot})`)
    .call(d3.axisBottom(xd).tickValues(dosTickValues[i]).tickSize(-5).tickPadding(10).tickFormat(d3.format("d")));
  dax.select(".domain").remove();
  dax.selectAll("text").attr("font-size",11).attr("font-weight","bold").attr("font-family",SANS).attr("fill","#111");
  dax.selectAll(".tick").filter(d => d===0).select("text").attr("dx",3);
  const minorDos = d3.range(250, dosMax[i], 500);
  const daxm = g.append("g").attr("transform",`translate(0,${L.bot})`)
    .call(d3.axisBottom(xd).tickValues(minorDos).tickSize(-3).tickFormat(""));
  daxm.select(".domain").remove();

  // k labels
  kLabels.forEach((lab,j) => {
    const isG = lab === "\u0393";
    g.append("text").attr("x", xk(j) + (j===4 ? -2 : 0)).attr("y", L.bot + (isG ? 16 : 19))
      .attr("text-anchor","middle").text(lab)
      .attr("font-family", isG ? SERIF : SANS).attr("font-weight", isG ? "normal" : "bold")
      .attr("font-size", isG ? 15 : 14).attr("fill","#111");
  });

  // titles
  g.append("text").attr("x",(L.bx0+L.div)/2).attr("y",L.kT+5).attr("text-anchor","middle")
    .text("Kpoints").attr("font-size", i===2 ? 12 : 13).attr("font-weight","bold").attr("fill","#111");
  g.append("text").attr("x",(L.div+L.dx1)/2).attr("y",L.dT+5).attr("text-anchor","middle")
    .text(dosTitles[i]).attr("font-size",13).attr("font-weight","bold").attr("fill","#111");
  g.append("text").attr("transform",`translate(${L.bx0-28},${(L.top+L.bot)/2}) rotate(-90)`)
    .attr("text-anchor","middle").text("Energy (eV)").attr("font-size",13).attr("font-weight","bold").attr("fill","#111");
  g.append("text").attr("x",L.bx0-2).attr("y",L.top-17).text(`(${letter})`)
    .attr("font-size",22).attr("fill","#111");
});
</script>
</body></html>
